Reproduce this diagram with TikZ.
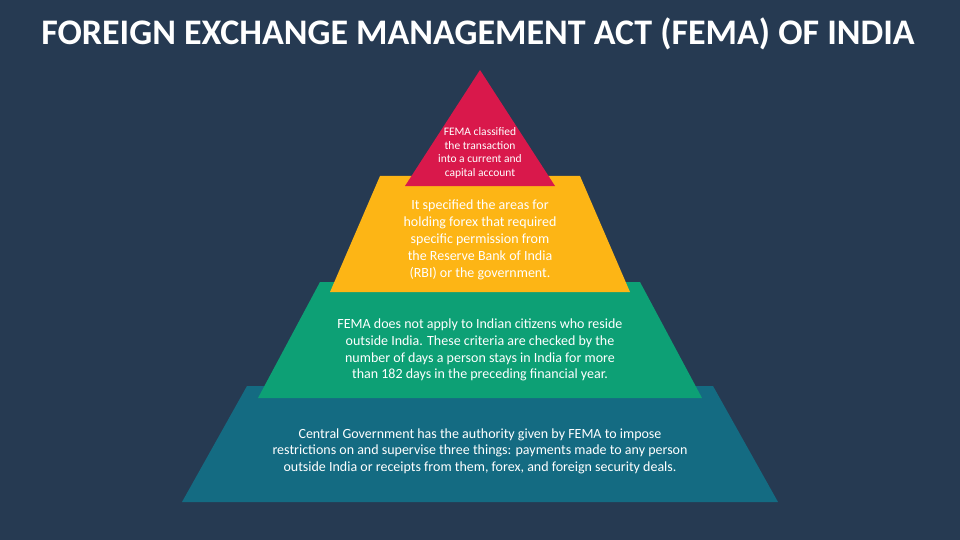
\documentclass[tikz,border=0pt]{standalone}
\usepackage{fontspec}
\setmainfont{Carlito}
\definecolor{bg}{HTML}{263A52}
\definecolor{cr}{HTML}{D9184B}
\definecolor{cy}{HTML}{FDB515}
\definecolor{cg}{HTML}{0DA075}
\definecolor{cb}{HTML}{146B82}
\begin{document}
\begin{tikzpicture}[x=1pt,y=-1pt,
  txt/.style={text=white,align=center,font=\fontsize{14}{16.7}\selectfont}]
\fill[bg] (0,0) rectangle (960,540);
\useasboundingbox (0,0) rectangle (960,540);
\node[text=white,font=\fontsize{36}{40}\selectfont\bfseries] (title) at (478,34) {FOREIGN EXCHANGE MANAGEMENT ACT (FEMA) OF INDIA};
\fill[cb] (247,386) -- (713,386) -- (778,502) -- (182,502) -- cycle;
\fill[cg] (320,282) -- (640,282) -- (702,398) -- (258,398) -- cycle;
\fill[cy] (380,176) -- (580,176) -- (630,292) -- (330,292) -- cycle;
\fill[cr] (480,70) -- (555,186) -- (405,186) -- cycle;
\node[txt,font=\fontsize{11.5}{13.4}\selectfont] (t1) at (480,153) {FEMA classified\\the transaction\\into a current and\\capital account};
\node[txt,font=\fontsize{14}{17}\selectfont] (t2) at (480,240) {It specified the areas for\\holding forex that required\\specific permission from\\the Reserve Bank of India\\(RBI) or the government.};
\node[txt] (t3) at (480,350) {FEMA does not apply to Indian citizens who reside\\outside India. These criteria are checked by the\\number of days a person stays in India for more\\than 182 days in the preceding financial year.};
\node[txt,font=\fontsize{14}{16.5}\selectfont] (t4) at (480,451) {Central Government has the authority given by FEMA to impose\\restrictions on and supervise three things: payments made to any person\\outside India or receipts from them, forex, and foreign security deals.};
\end{tikzpicture}
\end{document}
